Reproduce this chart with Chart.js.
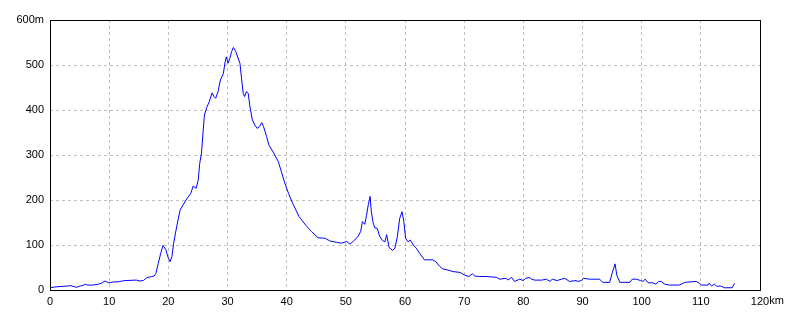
<!DOCTYPE html>
<html>
<head>
<meta charset="utf-8">
<script src="https://cdn.jsdelivr.net/npm/chart.js@4/dist/chart.umd.min.js"></script>
<style>
  html, body { margin: 0; padding: 0; background: #fff; }
  #wrap { width: 800px; height: 320px; }
</style>
</head>
<body>
<div id="wrap"><canvas id="profile"></canvas></div>
<script>
// distance along the route (km) and elevation (m)
let distKm = [
  0, 1.0, 3.1, 3.4, 3.9, 4.5, 5.1, 5.6, 5.9, 6.3, 7.3, 8.2, 8.7, 9.3, 9.9,
  10.7, 11.5, 11.8, 12.7, 14.6, 15.2, 15.8, 16.3, 17.2, 17.6, 17.9, 18.3, 18.7, 19.1, 19.6,
  19.9, 20.3, 20.6, 20.9, 21.3, 21.7, 22.0, 22.5, 23.2, 23.8, 24.2, 24.7, 25.05, 25.3, 25.6,
  25.9, 26.1, 26.5, 26.9, 27.4, 27.7, 28.0, 28.4, 28.8, 29.3, 29.6, 29.8, 30.1, 30.4, 30.7,
  31.0, 31.4, 31.6, 32.1, 32.4, 32.65, 32.9, 33.2, 33.5, 33.8, 34.2, 34.6, 35.0, 35.4, 35.8,
  36.1, 36.6, 37.0, 37.7, 38.6, 39.1, 39.7, 40.3, 41.0, 42.1, 43.4, 44.2, 45.3, 46.5, 47.3,
  48.4, 49.3, 50.1, 50.7, 51.5, 52.1, 52.5, 52.8, 53.2, 53.5, 53.8, 54.1, 54.3, 54.6, 54.9,
  55.3, 55.7, 56.2, 56.6, 56.9, 57.3, 57.9, 58.3, 58.7, 59.1, 59.5, 59.8, 60.1, 60.5, 60.9,
  61.4, 61.9, 62.5, 63.3, 64.2, 64.7, 65.2, 65.9, 66.4, 67.3, 68.1, 69.3, 70.1, 70.8, 71.4,
  71.8, 72.6, 73.8, 75.5, 76.0, 77.1, 77.4, 78.0, 78.5, 79.4, 80.0, 80.4, 81.0, 81.4, 81.9,
  83.1, 83.9, 84.5, 84.9, 85.7, 86.4, 87.0, 87.8, 88.9, 89.2, 89.8, 90.2, 91.2, 92.9, 93.4,
  94.6, 95.0, 95.5, 95.8, 96.3, 98.0, 98.4, 99.1, 99.8, 100.2, 100.6, 101.1, 101.9, 102.4, 102.9,
  103.3, 103.9, 104.7, 106.4, 107.3, 109.2, 109.8, 110.1, 111.2, 111.4, 111.8, 112.3, 112.7, 113.3, 114.0,
  115.3, 115.7
];
let elevM = [
  5, 7, 9, 10, 8, 6, 9, 10, 13, 11, 11, 13, 15, 20, 16,
  18, 18, 19, 21, 22, 20, 21, 27, 30, 31, 37, 59, 81, 99, 89,
  74, 63, 74, 104, 133, 160, 178, 189, 204, 215, 231, 226, 244, 281, 304,
  356, 389, 406, 418, 438, 430, 426, 441, 467, 481, 507, 518, 504, 515, 530,
  539, 530, 522, 504, 467, 437, 430, 441, 437, 407, 378, 367, 359, 363, 372,
  363, 341, 322, 307, 285, 263, 237, 215, 193, 163, 141, 130, 116, 115, 109,
  106, 104, 108, 102, 111, 120, 130, 152, 146, 166, 190, 208, 175, 150, 138,
  137, 120, 110, 107, 123, 95, 88, 93, 118, 159, 174, 152, 115, 107, 111,
  100, 93, 81, 67, 67, 67, 63, 52, 47, 44, 41, 39, 33, 30, 36,
  31, 30, 30, 28, 24, 26, 22, 28, 19, 24, 21, 26, 28, 24, 22,
  22, 24, 19, 24, 21, 24, 26, 19, 21, 19, 21, 26, 24, 24, 17,
  17, 37, 58, 33, 17, 17, 24, 24, 21, 19, 24, 16, 16, 13, 19,
  19, 13, 11, 11, 17, 19, 15, 11, 11, 15, 9, 13, 8, 9, 5,
  5, 15
];

// axis ticks
let xMin = 0, xMax = 120, xStep = 10, xUnit = 'km';
let yMin = 0, yMax = 600, yStep = 100, yUnit = 'm';

let points = distKm.map((d, i) => ({ x: d, y: elevM[i] }));

const tickFont = { family: '"Liberation Sans", Arial, sans-serif', size: 11 };

// black frame round the plot + unit after the last x label
const framePlugin = {
  id: 'frame',
  afterDraw(chart) {
    const a = chart.chartArea;
    const ctx = chart.ctx;
    ctx.save();
    ctx.strokeStyle = '#000';
    ctx.lineWidth = 1;
    ctx.strokeRect(a.left + 0.5, a.top + 0.5, a.right - a.left, a.bottom - a.top);
    // "km" goes after the centred "120"
    const xs = chart.scales.x;
    const px = xs.getPixelForValue(xMax);
    ctx.font = tickFont.size + 'px ' + tickFont.family;
    const w = ctx.measureText(String(xMax)).width;
    ctx.fillStyle = '#000';
    ctx.textAlign = 'left';
    ctx.textBaseline = 'top';
    ctx.fillText(xUnit, px + w / 2, a.bottom + 5);
    ctx.restore();
  }
};

new Chart(document.getElementById('profile'), {
  type: 'line',
  data: {
    datasets: [{
      data: points,
      borderColor: '#0000ff',
      borderWidth: 1,
      pointRadius: 0,
      tension: 0,
      fill: false
    }]
  },
  options: {
    responsive: true,
    maintainAspectRatio: false,
    animation: false,
    events: [],
    layout: { padding: { top: 20, right: 40, left: 0, bottom: 0 } },
    plugins: { legend: { display: false }, tooltip: { enabled: false } },
    scales: {
      x: {
        type: 'linear',
        min: xMin, max: xMax,
        afterFit(s) { s.height = 30; },
        border: { display: false, dash: [3, 3] },
        grid: { color: '#c0c0c0', drawTicks: false },
        ticks: {
          stepSize: xStep, color: '#000', font: tickFont, padding: 5,
          maxRotation: 0, autoSkip: false
        }
      },
      y: {
        min: yMin, max: yMax,
        afterFit(s) { s.width = 50; },
        border: { display: false, dash: [3, 3] },
        grid: { color: '#c0c0c0', drawTicks: false },
        ticks: {
          stepSize: yStep, color: '#000', font: tickFont, padding: 6,
          callback: v => v === yMax ? v + yUnit : v
        }
      }
    }
  },
  plugins: [framePlugin]
});
</script>
</body>
</html>
